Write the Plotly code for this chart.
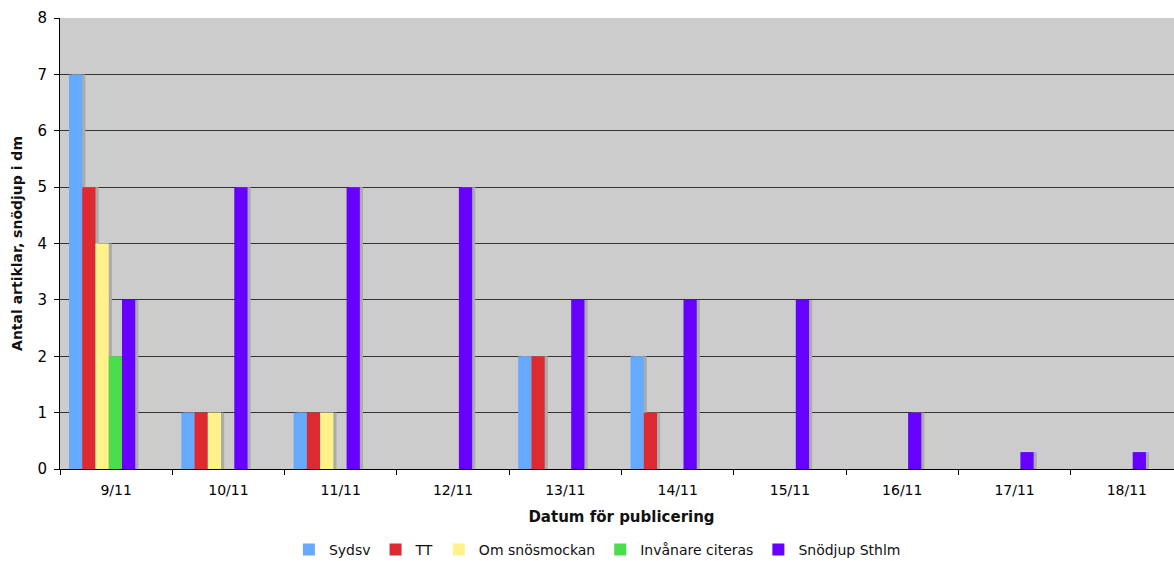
import plotly.graph_objects as go

dates = ["9/11", "10/11", "11/11", "12/11", "13/11", "14/11", "15/11", "16/11", "17/11", "18/11"]
sydsv = [7, 1, 1, 0, 2, 2, 0, 0, 0, 0]
tt = [5, 1, 1, 0, 2, 1, 0, 0, 0, 0]
om_snosmockan = [4, 1, 1, 0, 0, 0, 0, 0, 0, 0]
invanare = [2, 0, 0, 0, 0, 0, 0, 0, 0, 0]
snodjup = [3, 5, 5, 5, 3, 3, 3, 1, 0.3, 0.3]

series = [
    ("Sydsv", sydsv, "#66AAFF"),
    ("TT", tt, "#DD2A30"),
    ("Om snösmockan", om_snosmockan, "#FFF28A"),
    ("Invånare citeras", invanare, "#4CDD4C"),
    ("Snödjup Sthlm", snodjup, "#6600FF"),
]

bw = 0.118
start = -0.42
fig = go.Figure()
# shadows
for k, (name, vals, col) in enumerate(series):
    fig.add_trace(go.Bar(
        x=dates, y=vals, offset=start + k * bw + 0.028, width=bw,
        marker=dict(color="#ABABAB", line=dict(width=0)),
        showlegend=False, hoverinfo="skip",
    ))
for k, (name, vals, col) in enumerate(series):
    fig.add_trace(go.Bar(
        x=dates, y=vals, name=name, offset=start + k * bw, width=bw,
        marker=dict(color=col, line=dict(width=0)),
    ))

font = "DejaVu Sans, Verdana, sans-serif"
fig.update_layout(
    width=1183, height=561,
    barmode="overlay",
    margin=dict(l=60, r=0, t=18, b=92),
    paper_bgcolor="white",
    plot_bgcolor="#CCCCCC",
    font=dict(family=font, size=14, color="#111"),
    showlegend=True,
    legend=dict(orientation="h", x=0.505, xanchor="center", xref="container",
                y=0.02, yanchor="middle", yref="container",
                font=dict(size=14), itemwidth=30, traceorder="normal",
                itemsizing="constant"),
    xaxis=dict(
        type="category", tickson="boundaries", ticks="outside", ticklen=5,
        tickcolor="#000", showline=True, linecolor="#000", linewidth=1,
        showgrid=False, tickfont=dict(size=14, color="#000"), automargin=False,
        ticklabelstandoff=8,
        title=dict(text="<b>Datum för publicering</b>", font=dict(size=15), standoff=14),
        range=[-0.5, 9.5],
    ),
    yaxis=dict(
        range=[0, 8], dtick=1, ticks="outside", ticklen=5, tickcolor="#000",
        showline=True, linecolor="#000", linewidth=1,
        showgrid=True, gridcolor="#333", gridwidth=1, automargin=False,
        tickfont=dict(size=15, color="#000"), ticklabelstandoff=4,
        title=dict(text="<b>Antal artiklar, snödjup i dm</b>", font=dict(size=14), standoff=11),
        zeroline=False,
    ),
)
fig.write_html("out.html", config={"displayModeBar": False},
               post_script="document.body.style.margin='0';document.body.style.overflow='hidden';")
